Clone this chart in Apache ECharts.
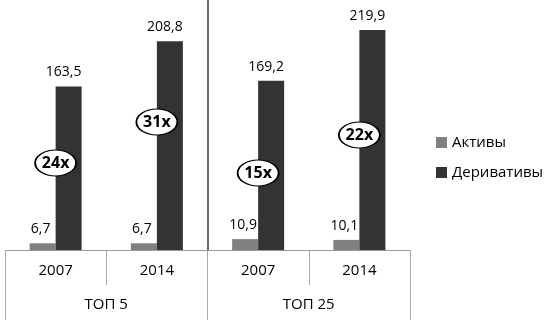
<!DOCTYPE html>
<html><head><meta charset="utf-8">
<script src="https://cdn.jsdelivr.net/npm/echarts@6/dist/echarts.min.js"></script>
<style>html,body{margin:0;padding:0;background:#fff}#c{width:550px;height:320px}</style>
</head><body><div id="c"></div>
<script>
var years = ['2007', '2014', '2007', '2014'];
var groups = ['ТОП 5', 'ТОП 25'];
var assets = [6.7, 6.7, 10.9, 10.1];
var derivs = [163.5, 208.8, 169.2, 219.9];
var ratioLabels = ['24x', '31x', '15x', '22x'];
var ratioY = [87, 128, 77, 115];
var seriesNames = ['Активы', 'Деривативы'];

var fmt = function (p) { return String(p.value).replace('.', ','); };
var font = '"Open Sans", sans-serif';
var chart = echarts.init(document.getElementById('c'));
chart.setOption({
  animation: false,
  backgroundColor: '#fff',
  textStyle: { fontFamily: font },
  grid: { left: 5, right: 140, top: 0, bottom: 70 },
  legend: {
    orient: 'vertical', left: 431, top: 130,
    itemWidth: 11, itemHeight: 11, itemGap: 15,
    icon: 'rect',
    textStyle: { fontSize: 15, color: '#000', fontFamily: font },
    data: seriesNames
  },
  xAxis: [{
    type: 'category', data: years,
    axisLine: { show: true, lineStyle: { color: '#999', width: 1 } },
    axisTick: { show: true, alignWithLabel: false, interval: 0, length: 35, lineStyle: { color: '#aaa', width: 1 } },
    axisLabel: { fontSize: 15, color: '#000', margin: 13, fontFamily: font }
  }, {
    type: 'category', data: groups, position: 'bottom',
    axisLine: { show: false },
    axisTick: { show: true, alignWithLabel: false, interval: 0, length: 70, lineStyle: { color: '#aaa', width: 1 } },
    axisLabel: { fontSize: 15, color: '#000', margin: 47, fontFamily: font },
    splitLine: { show: true, showMinLine: false, showMaxLine: false, lineStyle: { color: '#333', width: 1.5 } }
  }],
  yAxis: { type: 'value', min: 0, max: 250, show: false, splitLine: { show: false } },
  series: [{
    name: seriesNames[0], type: 'bar', data: assets, barWidth: 26, barGap: '0%',
    itemStyle: { color: '#808080' },
    label: { show: true, position: 'top', distance: 7, formatter: fmt, fontSize: 14, color: '#000', offset: [-2, 0] }
  }, {
    name: seriesNames[1], type: 'bar', data: derivs, barWidth: 26, barGap: '0%',
    itemStyle: { color: '#333333' },
    label: { show: true, position: 'top', distance: 7, formatter: fmt, fontSize: 14, color: '#000', offset: [-5, 0] }
  }, {
    type: 'scatter', z: 10,
    data: ratioY.map(function (v, i) { return [i, v]; }),
    symbol: 'circle', symbolSize: [41, 26],
    itemStyle: { color: '#fff', opacity: 1, borderColor: '#000', borderWidth: 1.5 },
    label: { show: true, position: 'inside', fontWeight: 'bold', fontSize: 16, color: '#000',
      formatter: function (p) { return ratioLabels[p.dataIndex]; } },
    silent: true
  }]
});
</script></body></html>
